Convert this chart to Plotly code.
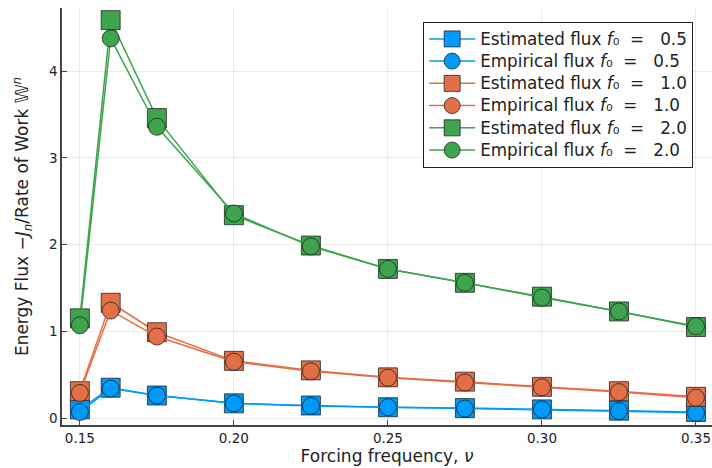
import plotly.graph_objects as go

nu = [0.15, 0.16, 0.175, 0.2, 0.225, 0.25, 0.275, 0.3, 0.325, 0.35]

est_05 = [0.10, 0.35, 0.26, 0.17, 0.145, 0.125, 0.115, 0.10, 0.085, 0.07]
emp_05 = [0.07, 0.34, 0.26, 0.17, 0.14, 0.125, 0.11, 0.10, 0.08, 0.06]
est_10 = [0.31, 1.33, 0.99, 0.66, 0.55, 0.47, 0.42, 0.36, 0.31, 0.245]
emp_10 = [0.29, 1.24, 0.94, 0.65, 0.54, 0.465, 0.41, 0.355, 0.30, 0.235]
est_20 = [1.15, 4.59, 3.46, 2.34, 1.99, 1.72, 1.56, 1.40, 1.23, 1.05]
emp_20 = [1.07, 4.38, 3.36, 2.36, 1.98, 1.72, 1.56, 1.39, 1.23, 1.06]

f0_labels = ["0.5", "1.0", "2.0"]
colors = ["#009AFA", "#E36F47", "#3EA44E"]

series = [
    ("Estimated flux", est_05, 0, "square"),
    ("Empirical flux", emp_05, 0, "circle"),
    ("Estimated flux", est_10, 1, "square"),
    ("Empirical flux", emp_10, 1, "circle"),
    ("Estimated flux", est_20, 2, "square"),
    ("Empirical flux", emp_20, 2, "circle"),
]

fig = go.Figure()
for name, vals, ci, sym in series:
    label = (f'<span style="font-size:16.8px">{name}&nbsp;<i>f</i>₀&nbsp;&nbsp;=&nbsp;&nbsp;'
             f'&nbsp;{f0_labels[ci]}</span>')
    fig.add_trace(go.Scatter(
        x=nu, y=vals, mode="lines+markers",
        name=label,
        line=dict(color=colors[ci], width=1.5),
        marker=dict(symbol=sym, size=19 if sym == "square" else 17,
                    color=colors[ci],
                    line=dict(color="rgba(30,30,30,0.75)", width=1)),
    ))

fig.update_layout(
    width=712, height=468,
    margin=dict(l=62, r=0, t=8, b=43),
    paper_bgcolor="white", plot_bgcolor="white",
    font=dict(family="DejaVu Sans", color="#222222"),
    showlegend=True,
    legend=dict(
        x=0.971, y=0.967, xanchor="right", yanchor="top",
        bgcolor="white", bordercolor="#222222", borderwidth=1,
        font=dict(size=14.8, color="#222222"),
        tracegroupgap=0, itemwidth=46,
    ),
)
fig.update_xaxes(
    range=[0.1442, 0.3552],
    tickvals=[0.15, 0.2, 0.25, 0.3, 0.35],
    ticktext=["0.15", "0.20", "0.25", "0.30", "0.35"],
    showgrid=True, gridcolor="rgba(0,0,0,0.08)", gridwidth=1,
    showline=True, linecolor="#444444", linewidth=1.5,
    ticks="inside", ticklen=5, tickcolor="#444444",
    zeroline=False,
    tickfont=dict(size=13.5),
    title=dict(text="Forcing frequency, <i>ν</i>", font=dict(size=17), standoff=2),
)
fig.update_yaxes(
    range=[-0.08, 4.73],
    tickvals=[0, 1, 2, 3, 4],
    showgrid=True, gridcolor="rgba(0,0,0,0.08)", gridwidth=1,
    showline=True, linecolor="#444444", linewidth=1.5,
    ticks="inside", ticklen=5, tickcolor="#444444",
    zeroline=False,
    tickfont=dict(size=13.5),
    title=dict(text="Energy Flux −<i>J</i><sub><i>n</i></sub>/Rate of Work 𝕎<sup><i>n</i></sup>",
               font=dict(size=17), standoff=16),
)

fig.write_html("out.html", config={"displayModeBar": False},
               post_script="document.body.style.margin='0';document.body.style.overflow='hidden';")
